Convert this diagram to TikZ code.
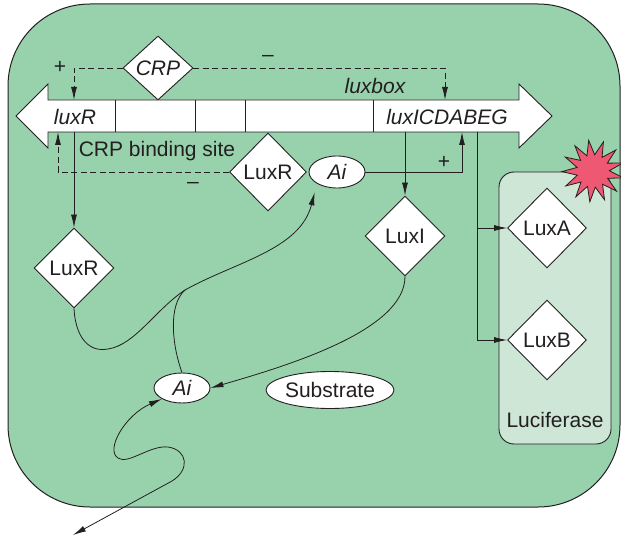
\documentclass[tikz,border=0pt]{standalone}
\usepackage{fontspec}
\setmainfont{Liberation Sans}
\usetikzlibrary{shapes.geometric,arrows.meta,calc}
\definecolor{cellgreen}{HTML}{98D2AD}
\definecolor{lucbox}{HTML}{CDE6D5}
\definecolor{burst}{HTML}{EE5872}
\definecolor{ink}{HTML}{231F20}
\begin{document}
\begin{tikzpicture}[x=1pt,y=-1pt,
  every node/.style={font=\fontsize{21}{25}\selectfont, text=ink},
  ln/.style={draw=ink, line width=0.8pt},
  arr/.style={ln, -{Latex[length=13pt,width=6pt]}},
  darr/.style={ln, dashed, dash pattern=on 6pt off 3.5pt, -{Latex[length=13pt,width=6pt]}},
  dia/.style={diamond, draw=ink, fill=white, line width=0.9pt, inner sep=0pt, minimum width=80pt, minimum height=80pt},
  ell/.style={ellipse, draw=ink, fill=white, line width=0.9pt, inner sep=0pt},
  lbl/.style={inner sep=0pt},
  ital/.style={lbl, font=\fontsize{21}{25}\selectfont\itshape}
]
\useasboundingbox (0,0) rectangle (621,540);
% cell
\draw[fill=cellgreen, draw=ink, line width=1pt, rounded corners=82pt] (8,4) rectangle (620,507);
% luciferase box
\node[draw=ink, fill=lucbox, line width=0.9pt, rounded corners=15pt, minimum width=112pt, minimum height=272pt, inner sep=0pt] (lucbox) at (555,308) {};
\node[lbl] (luclbl) at (555,420) {Luciferase};
% starburst
\node[star, star points=13, star point ratio=1.9, fill=burst, draw=ink, line width=0.8pt, minimum size=62pt, inner sep=0pt, rotate=8] (burst) at (593,171) {};
% gene bar
\draw[fill=white, draw=ink, line width=0.9pt] (16,116) -- (48,84) -- (48,100) -- (519,100) -- (519,84) -- (552,116) -- (519,148) -- (519,132) -- (48,132) -- (48,148) -- cycle;
\foreach \xx in {115,195,245,373} \draw[ln] (\xx,100) -- (\xx,132);
\node[ital] (luxR) at (75,117) {luxR};
\node[ital] (luxI) at (447,117) {luxICDABEG};
\node[ital] (luxbox) at (375,86) {luxbox};
\node[lbl] (crpsite) at (157,151) {CRP binding site};
% bar anchor coordinates
\coordinate (bt74) at (74,100);
\coordinate (bt445) at (445,100);
\coordinate (bb58) at (58,132);
\coordinate (bb74) at (74,132);
\coordinate (bb462) at (462,132);
\coordinate (bb405) at (405,132);
\coordinate (bb477) at (477,132);
% nodes
\node[dia, minimum width=70pt, minimum height=64pt, font=\fontsize{21}{25}\selectfont\itshape] (CRP) at (158,68) {CRP};
\node[dia, minimum width=77pt, minimum height=78pt] (LuxRm) at (268,172) {LuxR};
\node[ell, minimum width=56pt, minimum height=32pt, font=\fontsize{21}{25}\selectfont\itshape] (Ait) at (337,172) {Ai};
\node[dia] (LuxI) at (405,236) {LuxI};
\node[dia] (LuxRl) at (74,268) {LuxR};
\node[dia, minimum width=79pt] (LuxA) at (547,228) {LuxA};
\node[dia, minimum width=79pt] (LuxB) at (547,340) {LuxB};
\node[ell, minimum width=56pt, minimum height=30pt, font=\fontsize{21}{25}\selectfont\itshape] (Aib) at (182,388) {Ai};
\node[ell, minimum width=128pt, minimum height=37pt] (Sub) at (330,390) {Substrate};
% signs
\node[lbl] (p1) at (60,67) {+};
\node[lbl] (m1) at (268,58) {--};
\node[lbl] (m2) at (193,185) {--};
\node[lbl] (p2) at (444,162) {+};
% CRP regulation
\draw[darr] (CRP.west) -| (bt74);
\draw[darr] (CRP.east) -| (bt445);
% LuxR regulation
\draw[darr] (LuxRm.west) -| (bb58);
% Ai activation
\draw[arr] (Ait.east) -| (bb462);
% expression
\draw[arr] (bb74) -- (LuxRl.north);
\draw[arr] (bb405) -- (LuxI.north);
\draw[arr] (bb477) |- (LuxA.west);
\draw[arr] (bb477) |- (LuxB.west);
% curves
\coordinate (jn) at (185,290);
\draw[arr, shorten >=9pt] (LuxRl.south) .. controls (76,345) and (95,352) .. (108,349) .. controls (135,345) and (155,310) .. (jn) .. controls (235,262) and (300,250) .. (Ait.south west);
\draw[ln] (Aib.north) .. controls (172,345) and (168,305) .. (jn);
\draw[arr] (LuxI.south) .. controls (405,330) and (290,365) .. (Aib.east);
\coordinate (outside) at (73,535);
\draw[ln, {Latex[length=13pt,width=6pt]}-{Latex[length=13pt,width=6pt]}] (outside) -- (172,481) .. controls (190,470) and (188,450) .. (168,447) .. controls (150,445) and (128,465) .. (118,458) .. controls (105,450) and (125,415) .. (Aib.south west);
\end{tikzpicture}
\end{document}
